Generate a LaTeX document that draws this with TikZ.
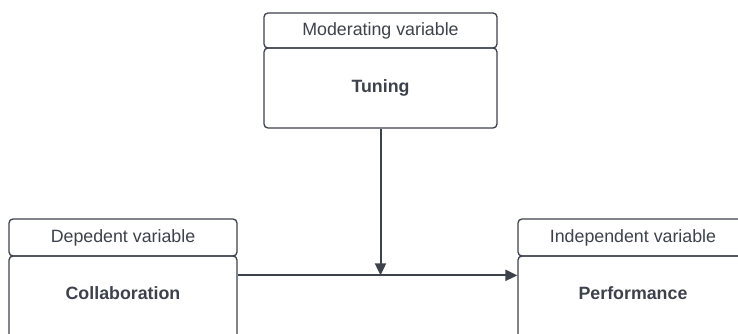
\documentclass[tikz,border=0pt]{standalone}
\usepackage{fontspec}
\setmainfont{Liberation Sans}
\usetikzlibrary{calc,arrows.meta}

\definecolor{slate}{RGB}{60,65,76}

\begin{document}
\begin{tikzpicture}[x=1pt,y=-1pt,
  headbox/.style={draw=slate,line width=1.3pt,rounded corners=4pt,text=slate,
    font=\fontsize{17.8}{20}\selectfont,inner sep=0pt},
  bodybox/.style={draw=slate,line width=1.3pt,rounded corners=4pt,text=slate,
    font=\fontsize{17.8}{20}\selectfont\bfseries,inner sep=0pt},
  link/.style={draw=slate,line width=2pt,-{Triangle[length=12pt,width=11pt]}}]
\useasboundingbox (0,0) rectangle (738,334);
\clip (0,0) rectangle (738,334);

% moderating variable
\node[headbox,minimum width=233pt,minimum height=35pt] (modhead) at (380.5,30.5) {Moderating variable};
\node[bodybox,minimum width=233pt,minimum height=80pt] (tune) at (380.5,88) {Tuning};

% dependent variable
\node[headbox,minimum width=228pt,minimum height=37pt] (dephead) at (123,237.5) {Depedent variable};
\node[bodybox,minimum width=228pt,minimum height=82pt,text depth=8pt] (collab) at (123,297) {Collaboration};

% independent variable
\node[headbox,minimum width=230pt,minimum height=37pt] (indhead) at (633,237.5) {Independent variable};
\node[bodybox,minimum width=230pt,minimum height=82pt,text depth=8pt] (perf) at (633,297) {Performance};

\coordinate (cout) at ($(collab.north east)+(0,20)$);
\coordinate (pin) at ($(perf.north west)+(0,20)$);
\coordinate (junc) at (tune.south |- cout);

\draw[link] (cout) -- (pin);
\draw[link] (tune.south) -- (junc);

\end{tikzpicture}
\end{document}
